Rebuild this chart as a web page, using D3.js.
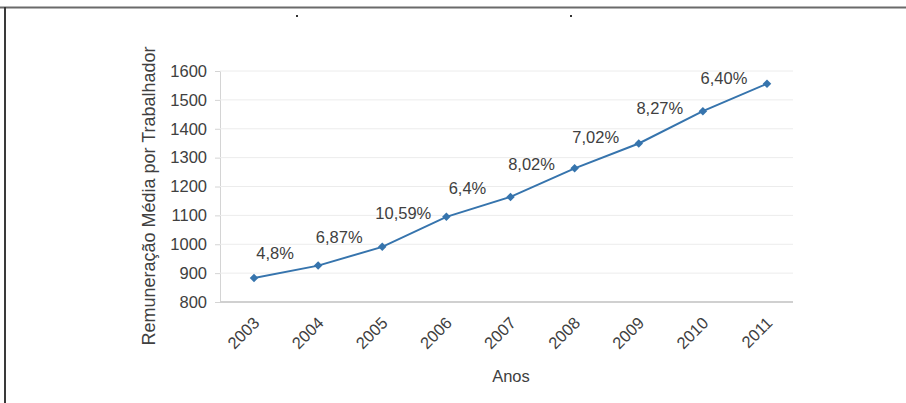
<!DOCTYPE html>
<html>
<head>
<meta charset="utf-8">
<script src="https://cdn.jsdelivr.net/npm/d3@7"></script>
<style>
  body { margin: 0; background: #fff; }
  text { font-family: "Liberation Sans", Arial, sans-serif; fill: #404040; }
</style>
</head>
<body>
<script>
// Datos del gráfico
const anos = ["2003", "2004", "2005", "2006", "2007", "2008", "2009", "2010", "2011"];
const remuneracao = [883, 926, 991, 1095, 1164, 1263, 1349, 1461, 1556];
const crescimento = ["4,8%", "6,87%", "10,59%", "6,4%", "8,02%", "7,02%", "8,27%", "6,40%"];
const ticksY = [800, 900, 1000, 1100, 1200, 1300, 1400, 1500, 1600];

const WIDTH = 906;
const HEIGHT = 403;
const MARGIN = { top: 71, bottom: 101, left: 220, right: 113 };
const WIDTHVIS = WIDTH - MARGIN.left - MARGIN.right;
const HEIGHTVIS = HEIGHT - MARGIN.top - MARGIN.bottom;

const svg = d3.select("body")
  .append("svg")
  .attr("width", WIDTH)
  .attr("height", HEIGHT);

// Marco de la figura
svg.append("line")
  .attr("x1", 0).attr("x2", WIDTH).attr("y1", 7.5).attr("y2", 7.5)
  .attr("stroke", "#6a6a6a").attr("stroke-width", 2);
svg.append("line")
  .attr("x1", 5).attr("x2", 5).attr("y1", 7).attr("y2", HEIGHT)
  .attr("stroke", "#3a3a3a").attr("stroke-width", 2);
svg.append("rect").attr("x", 296).attr("y", 15).attr("width", 2).attr("height", 2).attr("fill", "#333");
svg.append("rect").attr("x", 570).attr("y", 15).attr("width", 2).attr("height", 2).attr("fill", "#333");

const contenedor = svg.append("g")
  .attr("transform", `translate(${MARGIN.left}, ${MARGIN.top})`);

const escalaX = d3.scalePoint()
  .domain(anos)
  .range([34, WIDTHVIS - 26]);

const escalaY = d3.scaleLinear()
  .domain([800, 1600])
  .range([HEIGHTVIS, 0]);

// Eje Y con líneas de cuadrícula
const ejeY = d3.axisLeft(escalaY).tickValues(ticksY).tickSize(5).tickPadding(8)
  .tickFormat(d3.format("d"));
const gY = contenedor.append("g").call(ejeY);
gY.select(".domain").attr("stroke", "#d4d4d4");
gY.selectAll(".tick line").attr("stroke", "#d4d4d4");
gY.selectAll(".tick text").attr("font-size", 16.5).attr("fill", "#404040")
  .attr("font-family", "Liberation Sans, Arial, sans-serif");

contenedor.append("g")
  .selectAll("line")
  .data(ticksY.slice(1))
  .join("line")
  .attr("x1", 0).attr("x2", WIDTHVIS)
  .attr("y1", (d) => escalaY(d)).attr("y2", (d) => escalaY(d))
  .attr("stroke", "#ececec");

// Eje X
const ejeX = d3.axisBottom(escalaX).tickSize(0).tickPadding(0);
const gX = contenedor.append("g")
  .attr("transform", `translate(0, ${HEIGHTVIS})`)
  .call(ejeX);
gX.select(".domain").attr("stroke", "#d0d0d0").attr("stroke-width", 2)
  .attr("d", `M0,0H${WIDTHVIS}`);
gX.selectAll(".tick text")
  .attr("font-size", 16.5).attr("fill", "#404040")
  .attr("font-family", "Liberation Sans, Arial, sans-serif")
  .attr("text-anchor", "end")
  .attr("dy", 0)
  .attr("y", 0)
  .attr("transform", "translate(6, 22) rotate(-45)");

// Línea de la serie
const datos = anos.map((a, i) => ({ ano: a, valor: remuneracao[i] }));
const linea = d3.line()
  .x((d) => escalaX(d.ano))
  .y((d) => escalaY(d.valor));

contenedor.append("path")
  .datum(datos)
  .attr("d", linea)
  .attr("fill", "none")
  .attr("stroke", "#3674ad")
  .attr("stroke-width", 2);

contenedor.selectAll(".marcador")
  .data(datos)
  .join("path")
  .attr("class", "marcador")
  .attr("d", d3.symbol().type(d3.symbolSquare).size(36))
  .attr("transform", (d) => `translate(${escalaX(d.ano)}, ${escalaY(d.valor)}) rotate(45)`)
  .attr("fill", "#3674ad");

// Etiquetas de crecimiento entre años
contenedor.selectAll(".etiqueta")
  .data(crescimento)
  .join("text")
  .attr("class", "etiqueta")
  .attr("x", (d, i) => (escalaX(anos[i]) + escalaX(anos[i + 1])) / 2 - 11)
  .attr("y", (d, i) => (escalaY(remuneracao[i]) + escalaY(remuneracao[i + 1])) / 2 - 13)
  .attr("text-anchor", "middle")
  .attr("font-size", 16.5)
  .text((d) => d);

// Títulos de ejes
svg.append("text")
  .attr("x", 511)
  .attr("y", 382)
  .attr("text-anchor", "middle")
  .attr("font-size", 16.5)
  .text("Anos");

svg.append("text")
  .attr("transform", "translate(155, 196) rotate(-90)")
  .attr("text-anchor", "middle")
  .attr("font-size", 18)
  .text("Remuneração Média por Trabalhador");
</script>
</body>
</html>
